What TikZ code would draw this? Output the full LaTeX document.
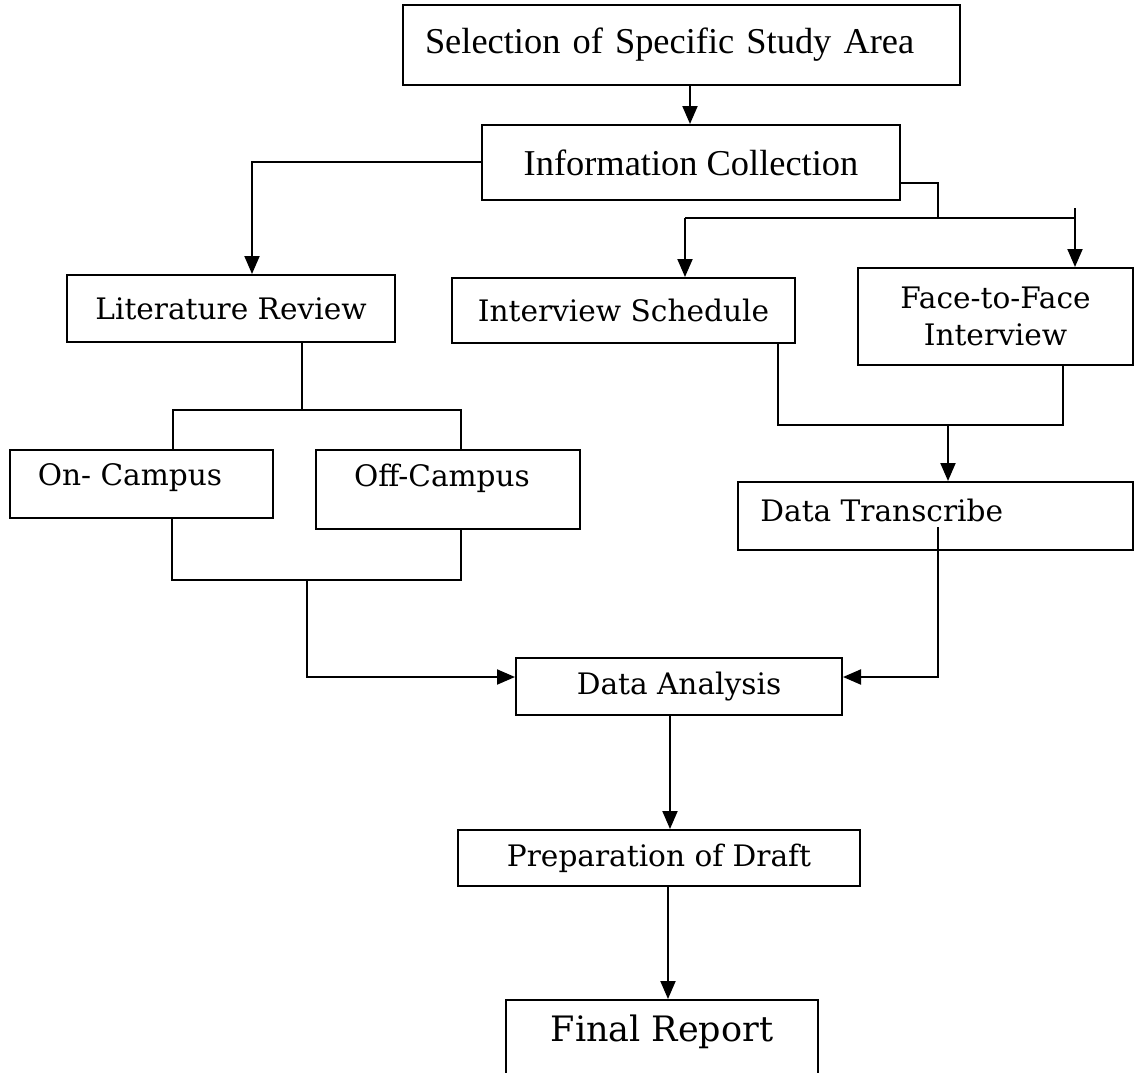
\documentclass[tikz,border=0pt]{standalone}
\usepackage{fontspec}
\setmainfont{DejaVu Serif}
\newfontfamily\timesf{Liberation Serif}
\usetikzlibrary{arrows.meta,calc}
\begin{document}
\begin{tikzpicture}[x=0.5pt,y=-0.5pt,
  box/.style={draw, line width=1pt, inner sep=0pt, font=\fontsize{14.8}{18.5}\selectfont},
  ln/.style={line width=1pt},
  arr/.style={ln, -{Triangle[length=9pt,width=7.5pt]}},
  txt/.style={inner sep=0pt, font=\fontsize{14.8}{18.5}\selectfont},
  tbox/.style={box, font=\timesf\fontsize{18.2}{21}\selectfont}]
\useasboundingbox (0,0) rectangle (1136,1072);
\clip (0,0) rectangle (1136,1072);

% boxes
\node[tbox, minimum width=278.5pt, minimum height=40pt, text width=256.5pt, align=left] (sel) at (681.5,45) {Selection of Specific Study Area};
\node[tbox, minimum width=209pt, minimum height=37.5pt] (info) at (691,162.5) {Information Collection};
\node[box, minimum width=164pt, minimum height=33.5pt] (lit) at (231,308.5) {Literature Review};
\node[box, minimum width=171.5pt, minimum height=32.5pt] (isch) at (623.5,310.5) {Interview Schedule};
\node[box, minimum width=137.5pt, minimum height=48.5pt, align=center] (f2f) at (995.5,316.5) {Face-to-Face\\Interview};
\node[box, minimum width=131.5pt, minimum height=34pt] (onc) at (141.5,484) {};
\node[txt] (onct) at (130,478) {On- Campus};
\node[box, minimum width=132pt, minimum height=39.5pt] (offc) at (448,489.5) {};
\node[txt] (offct) at (442,478) {Off-Campus};
\node[box, minimum width=197.5pt, minimum height=34pt] (dtr) at (935.5,516) {};
\node[txt, anchor=west] (dtrt) at (760,510) {Data Transcribe};
\node[box, minimum width=163pt, minimum height=28.5pt] (dana) at (679,686.5) {Data Analysis};
\node[box, minimum width=201pt, minimum height=28pt] (prep) at (659,858) {Preparation of Draft};
\node[box, minimum width=156pt, minimum height=45pt] (final) at (662,1045) {};
\node[txt, font=\fontsize{17.5}{20}\selectfont] (finalt) at (662,1032) {Final Report};

% connectors
\coordinate (a1) at (690,0);
\draw[arr] (sel.south -| a1) -- (info.north -| a1);
\coordinate (a2) at (252,162);
\draw[arr] (info.west |- a2) -- (a2) -- (lit.north -| a2);

\coordinate (j1) at (938,183);
\coordinate (j2) at (938,218);
\draw[ln] (info.east |- j1) -- (j1) -- (j2);
\coordinate (b1) at (685,218);
\coordinate (b2) at (1075,218);
\coordinate (b3) at (1075,208);
\draw[ln] (b1) -- (b2);
\draw[arr] (b1) -- (isch.north -| b1);
\draw[arr] (b3) -- (f2f.north -| b2);

\coordinate (c0) at (302,410);
\coordinate (c1) at (173,410);
\coordinate (c2) at (461,410);
\draw[ln] (lit.south -| c0) -- (c0);
\draw[ln] (onc.north -| c1) -- (c1) -- (c2) -- (offc.north -| c2);

\coordinate (d1) at (172,580);
\coordinate (d2) at (461,580);
\coordinate (d0) at (307,580);
\coordinate (d3) at (307,677);
\draw[ln] (onc.south -| d1) -- (d1) -- (d2) -- (offc.south -| d2);
\draw[arr] (d0) -- (d3) -- (dana.west |- d3);

\coordinate (e1) at (778,425);
\coordinate (e2) at (1063,425);
\coordinate (e0) at (948,425);
\draw[ln] (isch.south -| e1) -- (e1) -- (e2) -- (f2f.south -| e2);
\draw[arr] (e0) -- (dtr.north -| e0);

\coordinate (g0) at (938,527);
\coordinate (g1) at (938,677);
\draw[arr] (g0) -- (g1) -- (dana.east |- g1);

\coordinate (h1) at (670,0);
\draw[arr] (dana.south -| h1) -- (prep.north -| h1);
\coordinate (h2) at (668,0);
\draw[arr] (prep.south -| h2) -- (final.north -| h2);
\end{tikzpicture}
\end{document}
